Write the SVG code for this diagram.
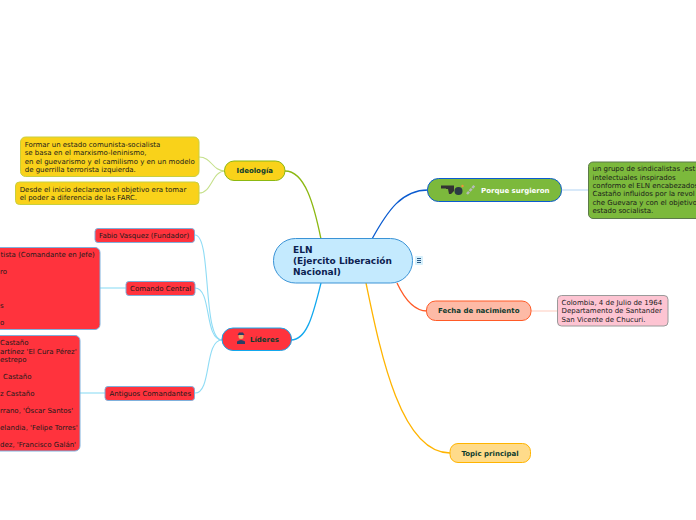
<svg xmlns="http://www.w3.org/2000/svg" width="696" height="520" viewBox="0 0 696 520">
<style>
text{font-family:"DejaVu Sans",Verdana,sans-serif;font-size:7px;fill:#1a1a1a}
.b{font-weight:bold;fill:#0d3b2e;font-size:7px}
.r{font-size:9px;font-weight:bold;fill:#0b2150}
.e{text-anchor:end}
.c{fill:none;stroke-width:1.3}
.t{fill:none;stroke-width:1.1}
.red{fill:#ff333d;stroke:#7fb0dc;stroke-width:1}
.yel{fill:#f9d21a;stroke:#c9cf3e;stroke-width:1}
</style>
<rect width="696" height="520" fill="#fff"/>
<g id="connectors">
<path class="c" stroke="#8cb811" d="M285 171C305 171 314 205 321 239"/>
<path class="c" stroke="#0a5bd0" d="M372 239C388 210 402 190 428 190"/>
<path class="c" stroke="#ff5a26" d="M397 283C405 300 414 311 427 311"/>
<path class="c" stroke="#ffb400" d="M366 283C380 350 400 453 450 453"/>
<path class="c" stroke="#12a8ee" d="M321 283C314 310 308 340 291 340"/>
<path class="t" stroke="#c5e08a" d="M199 157C212 157 212 171 225 171"/>
<path class="t" stroke="#c5e08a" d="M199 193C212 193 212 171 225 171"/>
<path class="t" stroke="#8fdcf5" d="M195 235C212 235 202 340 222 340"/>
<path class="t" stroke="#8fdcf5" d="M195 288C212 288 204 340 222 340"/>
<path class="t" stroke="#8fdcf5" d="M195 393C212 393 204 340 222 340"/>
<path class="t" stroke="#8fdcf5" d="M100 288H126"/>
<path class="t" stroke="#8fdcf5" d="M80 393H105"/>
<path class="t" stroke="#b9d7f5" d="M562 190H589"/>
<path class="t" stroke="#ffd0c4" d="M531 311H558"/>
</g>
<g id="root">
<rect x="273.500" y="238.500" width="139" height="44.500" rx="22" fill="#c4eafe" stroke="#3a93d6"/>
<text class="r" x="293" y="253">ELN</text>
<text class="r" x="293" y="264">(Ejercito Liberación</text>
<text class="r" x="293" y="275">Nacional)</text>
</g>
<g id="menu">
<rect x="415" y="256" width="8" height="9" rx="1" fill="#d6f0fc"/>
<path d="M417 258.500H421M417 260.500H421M417 262.500H421" stroke="#2a5a88" stroke-width="1"/>
</g>
<g id="ideologia">
<rect x="224.500" y="161" width="60.500" height="19.500" rx="9.500" fill="#f9d21a" stroke="#8cb811"/>
<text class="b" x="254.800" y="173" text-anchor="middle">Ideología</text>
</g>
<g id="ideologia-1">
<rect class="yel" x="20.500" y="137" width="178.500" height="39.500" rx="5"/>
<text x="24.700" y="147">Formar un estado comunista-socialista</text>
<text x="24.700" y="155">se basa en el marxismo-leninismo,</text>
<text x="24.700" y="164">en el guevarismo y el camilismo y en un modelo</text>
<text x="24.700" y="172">de guerrilla terrorista izquierda.</text>
</g>
<g id="ideologia-2">
<rect class="yel" x="15.500" y="182" width="183.500" height="22.500" rx="4"/>
<text x="19.700" y="192">Desde el inicio declararon el objetivo era tomar</text>
<text x="19.700" y="200">el poder a diferencia de las FARC.</text>
</g>
<g id="lideres">
<rect x="222" y="328" width="69.500" height="22.500" rx="11" fill="#ff333d" stroke="#12a8ee"/>
<circle cx="241" cy="336.500" r="2.500" fill="#e8b070"/>
<path d="M237.500 335H244.500L243 332.500H239Z" fill="#2a3f66"/>
<path d="M237 344V341.500Q241 338.500 245 341.500V344Z" fill="#2a3f66"/>
<text class="b" x="250" y="342">Líderes</text>
</g>
<g id="fabio">
<rect class="red" x="95" y="228.500" width="99.500" height="14" rx="3"/>
<text x="99" y="238">Fabio Vasquez (Fundador)</text>
</g>
<g id="comando">
<rect class="red" x="126" y="281.500" width="69" height="14" rx="3"/>
<text x="130" y="291">Comando Central</text>
</g>
<g id="comando-list">
<path class="red" d="M-5 247.500H95a5 5 0 0 1 5 5V324.500a5 5 0 0 1-5 5H-5Z"/>
<text x="0.500" y="257">tista (Comandante en Jefe)</text>
<text x="0" y="274">ro</text>
<text x="0" y="308">s</text>
<text x="0" y="325">o</text>
</g>
<g id="antiguos">
<rect class="red" x="105" y="386.500" width="89.500" height="14" rx="3"/>
<text x="109.500" y="396">Antiguos Comandantes</text>
</g>
<g id="antiguos-list">
<path class="red" d="M-5 335.500H75a5 5 0 0 1 5 5V446a5 5 0 0 1-5 5H-5Z"/>
<text x="0" y="345">Castaño</text>
<text x="0" y="353.500">artínez 'El Cura Pérez'</text>
<text x="0" y="362">estrepo</text>
<text x="3" y="379">Castaño</text>
<text x="0" y="396">z Castaño</text>
<text x="0" y="413">rrano, 'Óscar Santos'</text>
<text x="0" y="430">elandia, 'Felipe Torres'</text>
<text x="0" y="447">dez, 'Francisco Galán'</text>
</g>
<g id="porque">
<rect x="427.500" y="178.500" width="134" height="23" rx="11" fill="#7cb93c" stroke="#0a5bd0"/>
<path d="M441 185.500H454V191L451 194H449L448 189H446V188.500H441Z" fill="#333"/>
<circle cx="458.500" cy="191" r="4" fill="#2b3a44"/>
<circle cx="462.500" cy="186" r="1.200" fill="#f0923a"/>
<path d="M467 194L475 185" stroke="#b5bdb8" stroke-width="2.500" stroke-dasharray="3 1" fill="none"/>
<text x="481" y="192.500" style="font-weight:bold;fill:#fff">Porque surgieron</text>
</g>
<g id="porque-text">
<path d="M701 162H593a4.500 4.500 0 0 0-4.500 4.500V214a4.500 4.500 0 0 0 4.500 4.500H701Z" fill="#7cb93c" stroke="#5c7a4a"/>
<text x="592.500" y="171">un grupo de sindicalistas ,est</text>
<text x="592.500" y="179.500">intelectuales inspirados</text>
<text x="592.500" y="188">conformo el ELN encabezados</text>
<text x="592.500" y="196">Castaño influidos por la revol</text>
<text x="592.500" y="204.500">che Guevara y con el objetivo</text>
<text x="592.500" y="213">estado socialista.</text>
</g>
<g id="fecha">
<rect x="426.500" y="301" width="104.500" height="19.500" rx="9" fill="#fdbaa6" stroke="#ff5a26"/>
<text class="b" x="478.700" y="313" text-anchor="middle">Fecha de nacimiento</text>
</g>
<g id="fecha-text">
<rect x="557.500" y="295.500" width="110.500" height="30.500" rx="4" fill="#fdc4d2" stroke="#9a9a9a"/>
<text x="561.500" y="305">Colombia, 4 de Julio de 1964</text>
<text x="561.500" y="313">Departamento de Santander</text>
<text x="561.500" y="322">San Vicente de Chucuri.</text>
</g>
<g id="topic">
<rect x="450" y="443.500" width="80.500" height="19" rx="8" fill="#ffdb8a" stroke="#ffb400"/>
<text class="b" x="490" y="455.500" text-anchor="middle">Topic principal</text>
</g>
</svg>
